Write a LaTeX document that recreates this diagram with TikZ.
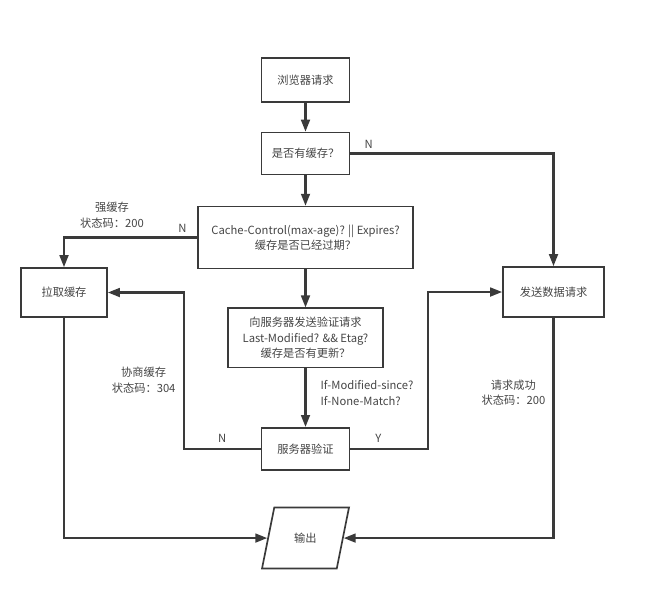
\documentclass[tikz,border=0pt]{standalone}
\usepackage{fontspec}
\setmainfont{Noto Sans CJK SC}
\usepackage{tikz}
\usetikzlibrary{arrows.meta,positioning,shapes.geometric}
\definecolor{linegray}{HTML}{3A3A3A}
\definecolor{txtgray}{HTML}{454545}
\newcommand{\flowfont}{\fontsize{8}{11}\selectfont}
\tikzset{
	flownode/.style = {align=center, inner sep=2pt, text=txtgray,
		font=\flowfont, draw=linegray, line width=1.2pt},
	fbox/.style = {flownode, rectangle, minimum width=2.2cm,
		minimum height=1.1cm},% normal step box
	fbig/.style = {flownode, rectangle},% box with several lines
	fio/.style = {flownode, trapezium, trapezium left angle=71,
		trapezium right angle=109, trapezium stretches=true,
		minimum width=2.175cm, minimum height=1.525cm},% input / output
	flabel/.style = {align=center, inner sep=1pt, text=txtgray,
		font=\flowfont},
	flow/.style = {->, draw=linegray, line width=1.6pt}
}

\begin{document}
\begin{tikzpicture}[x=0.025cm, y=-0.025cm, >={Triangle[length=0.3cm,width=0.22cm]}]
\useasboundingbox (0,0) rectangle (646,608);
% main column
\node [fbox] (req) at (305.5,80) {浏览器请求};
\node [fbox, minimum height=1.05cm, below=0.72cm of req] (hascache) {是否有缓存？};
\node [fbig, minimum width=5.375cm, minimum height=1.55cm, below=0.76cm of hascache] (cc)
	{Cache-Control(max-age)? || Expires?\\缓存是否已经过期？};
\node [fbig, minimum width=3.875cm, minimum height=1.475cm, below=0.95cm of cc] (verify)
	{向服务器发送验证请求\\Last-Modified? \&\& Etag?\\缓存是否有更新？};
\node [fbox, minimum height=1.05cm, below=1.47cm of verify] (server) {服务器验证};
\node [fio, below=0.9cm of server] (out) {输出};
% side boxes
\node [fbox, minimum width=2.15cm, minimum height=1.225cm] (pull) at (64,292.5) {拉取缓存};
\node [fbox, minimum width=2.525cm, minimum height=1.25cm] (send) at (553.5,292) {发送数据请求};

\draw[flow] (req) -- (hascache);
\draw[flow] (hascache) -| node[flabel, pos=0.045, above=2pt] {N} (send);
\draw[flow] (hascache) -- (cc);
\draw[flow] (cc) -| node[flabel, pos=0.055, above=2pt] {N}
	node[flabel, pos=0.32, above=5pt] {强缓存\\状态码：200} (pull);
\draw[flow] (cc) -- (verify);
\draw[flow] (verify) -- node[flabel, pos=0.42, right=9pt, align=left]
	{If-Modified-since?\\If-None-Match?} (server);
\draw[flow] (server.west) -- node[flabel, midway, above=3pt] {N} ++(-77,0)
	|- node[flabel, pos=0.22, left=4pt] {协商缓存\\状态码：304} (pull);
\draw[flow] (server.east) -- node[flabel, pos=0.36, above=3pt] {Y} ++(78,0) |- (send);
\draw[flow] (pull) |- (out);
\draw[flow] (send) |- node[flabel, pos=0.17, left=4pt] {请求成功\\状态码：200} (out);
\end{tikzpicture}
\end{document}
